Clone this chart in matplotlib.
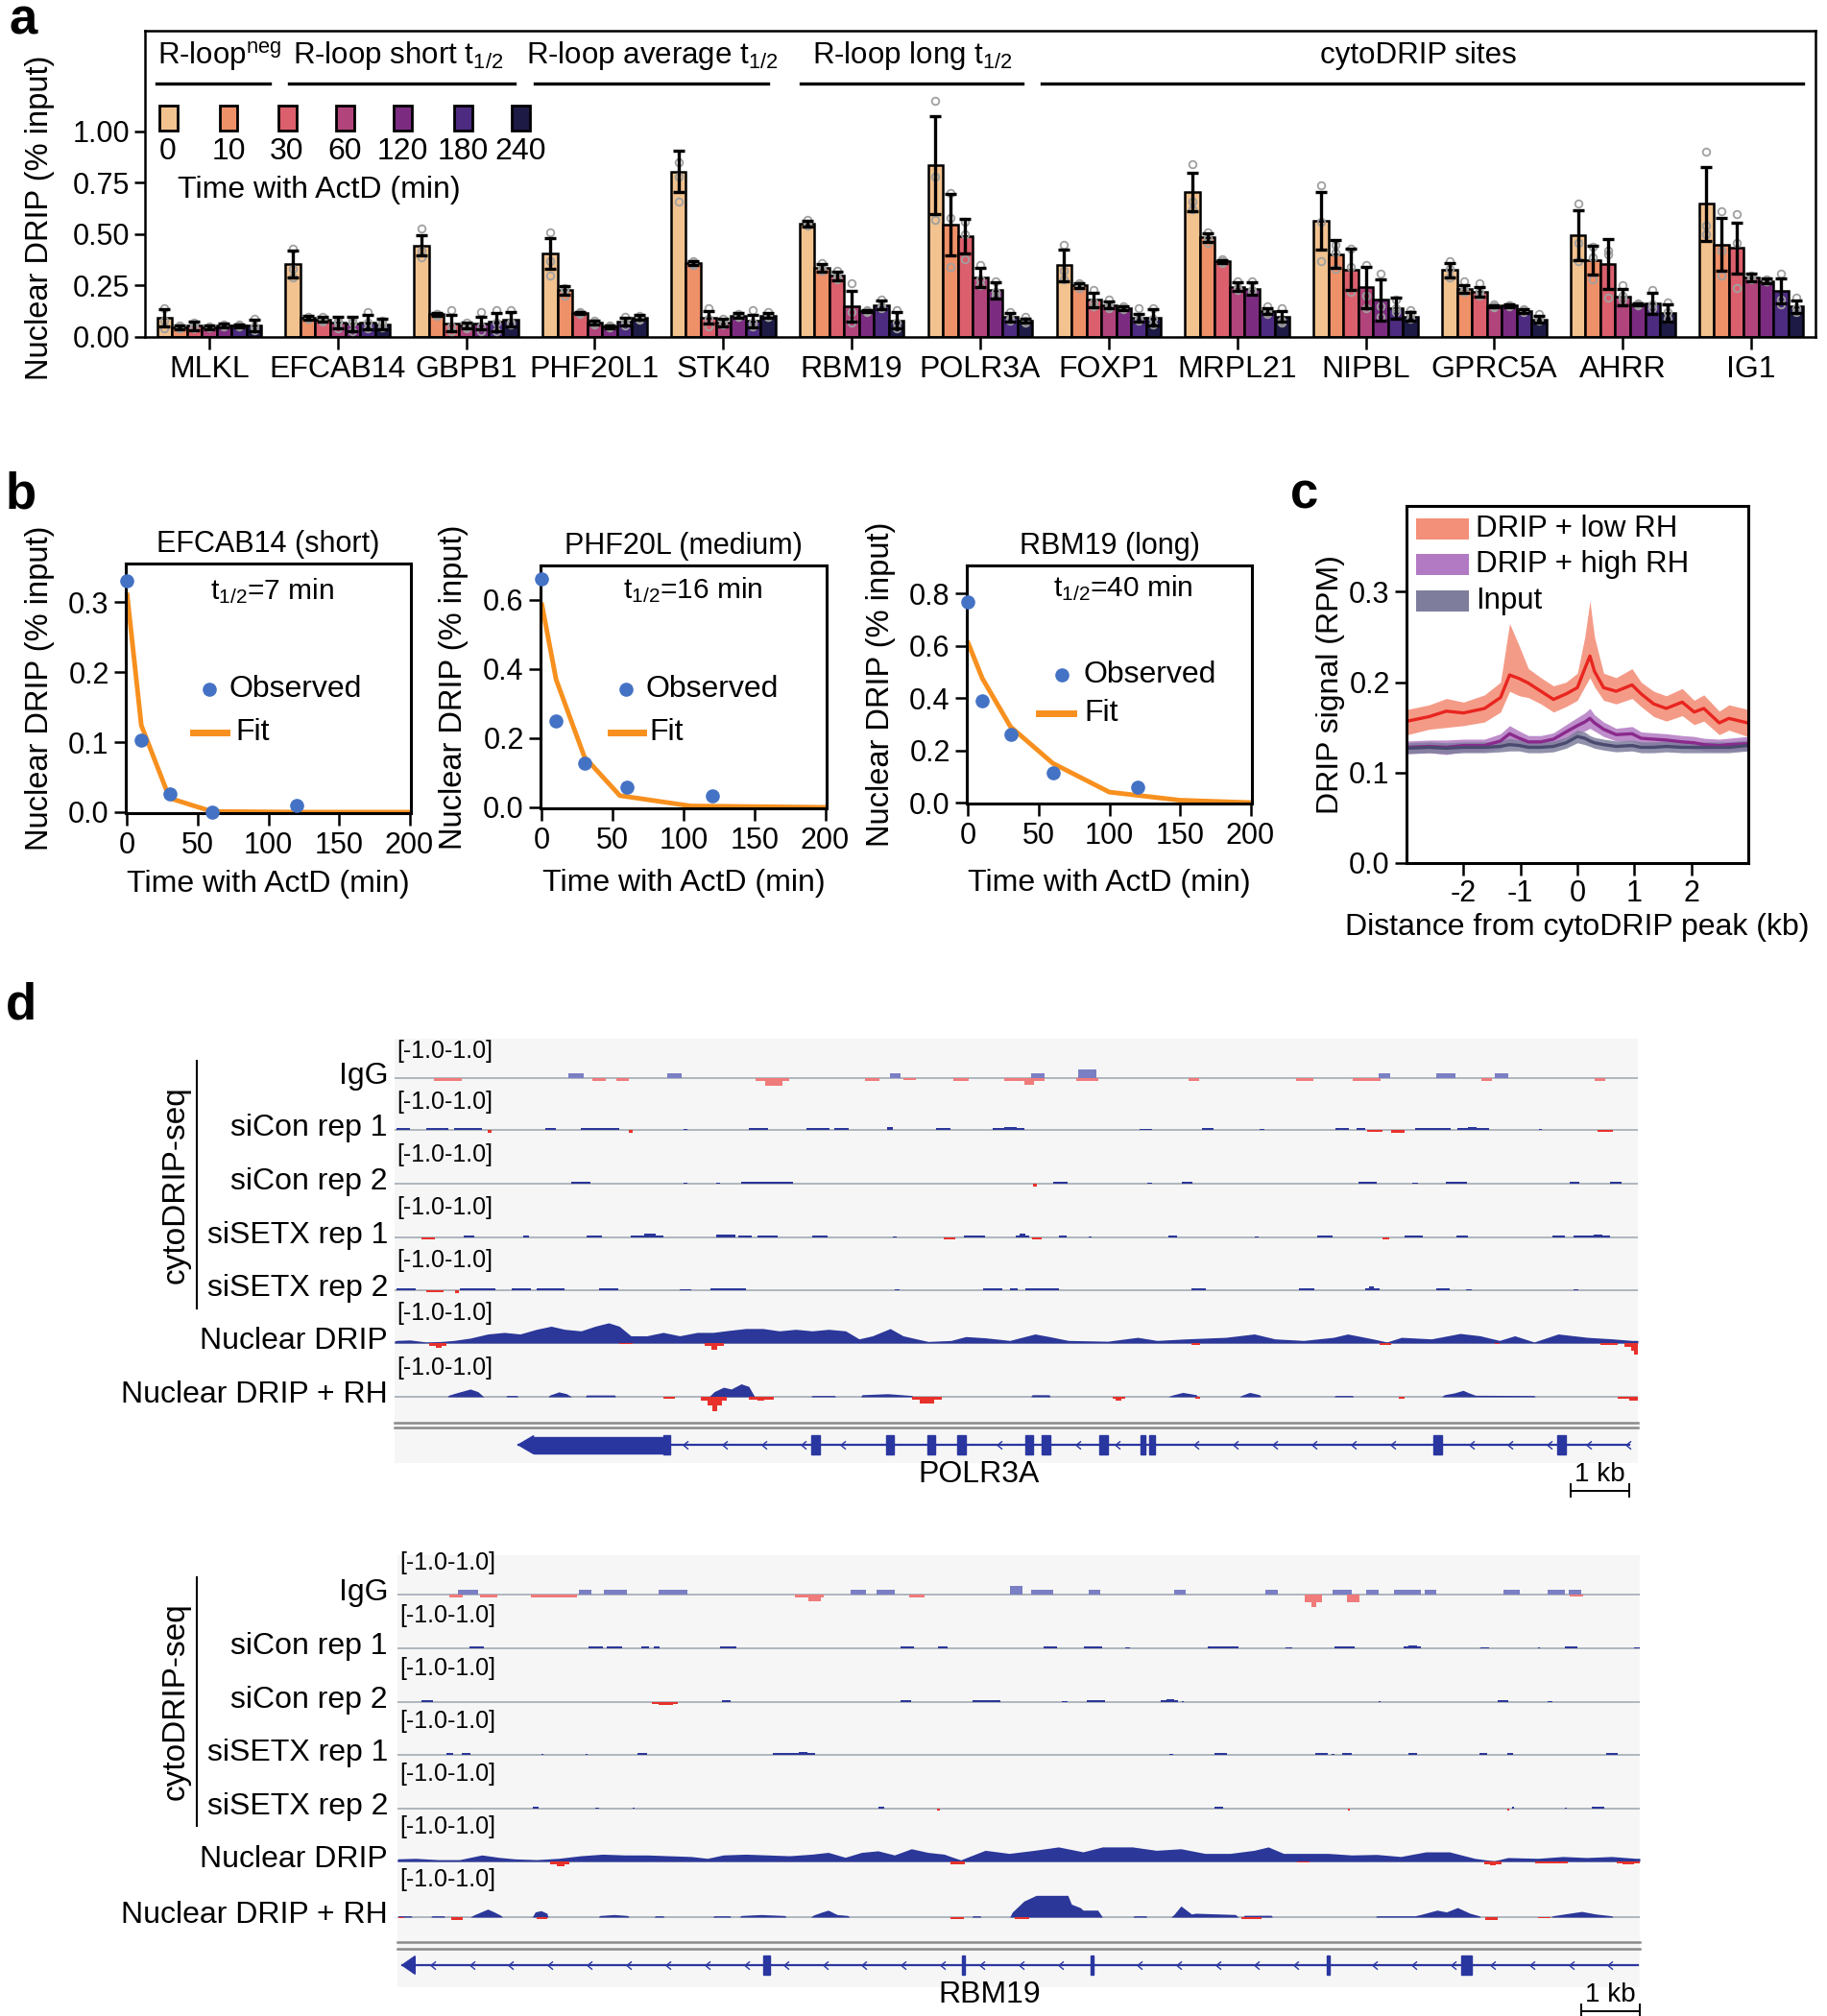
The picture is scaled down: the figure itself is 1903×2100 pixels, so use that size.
import numpy as np
import matplotlib
matplotlib.use("Agg")
import matplotlib.pyplot as plt
from matplotlib.patches import Rectangle, Polygon
from matplotlib.lines import Line2D
from matplotlib.path import Path

plt.rcParams['font.family'] = ['Liberation Sans', 'DejaVu Sans']
plt.rcParams['mathtext.fontset'] = 'custom'
plt.rcParams['mathtext.rm'] = 'Liberation Sans'
plt.rcParams['mathtext.it'] = 'Liberation Sans:italic'
plt.rcParams['axes.linewidth'] = 1.8
plt.rcParams['axes.unicode_minus'] = False

# ---------------- panel a data ----------------
genes = ['MLKL', 'EFCAB14', 'GBPB1', 'PHF20L1', 'STK40', 'RBM19', 'POLR3A',
         'FOXP1', 'MRPL21', 'NIPBL', 'GPRC5A', 'AHRR', 'IG1']
times = [0, 10, 30, 60, 120, 180, 240]
time_colors = ['#F2C28F', '#EE9068', '#DB5F6D', '#B1447B', '#7C2C80', '#4C2B80', '#1D1A45']
means = [
    [0.094, 0.047, 0.055, 0.047, 0.055, 0.055, 0.058],
    [0.355, 0.094, 0.086, 0.070, 0.065, 0.072, 0.062],
    [0.445, 0.110, 0.067, 0.055, 0.067, 0.073, 0.086],
    [0.406, 0.227, 0.117, 0.070, 0.050, 0.075, 0.094],
    [0.805, 0.360, 0.094, 0.070, 0.105, 0.078, 0.105],
    [0.550, 0.336, 0.297, 0.148, 0.125, 0.156, 0.081],
    [0.836, 0.547, 0.490, 0.290, 0.227, 0.097, 0.081],
    [0.348, 0.250, 0.180, 0.156, 0.140, 0.094, 0.094],
    [0.706, 0.484, 0.367, 0.245, 0.234, 0.125, 0.100],
    [0.563, 0.403, 0.328, 0.242, 0.180, 0.140, 0.100],
    [0.325, 0.234, 0.220, 0.148, 0.152, 0.125, 0.086],
    [0.495, 0.375, 0.355, 0.195, 0.160, 0.164, 0.117],
    [0.648, 0.450, 0.433, 0.290, 0.273, 0.223, 0.148],
]
errs = [
    [0.042, 0.010, 0.020, 0.008, 0.010, 0.008, 0.028],
    [0.065, 0.010, 0.012, 0.030, 0.035, 0.035, 0.025],
    [0.050, 0.005, 0.040, 0.015, 0.030, 0.045, 0.035],
    [0.075, 0.020, 0.006, 0.010, 0.006, 0.020, 0.012],
    [0.100, 0.008, 0.030, 0.018, 0.010, 0.030, 0.012],
    [0.015, 0.020, 0.020, 0.075, 0.005, 0.020, 0.040],
    [0.240, 0.150, 0.085, 0.045, 0.040, 0.020, 0.010],
    [0.075, 0.010, 0.035, 0.015, 0.010, 0.020, 0.040],
    [0.095, 0.020, 0.008, 0.020, 0.030, 0.015, 0.025],
    [0.140, 0.068, 0.100, 0.100, 0.100, 0.050, 0.020],
    [0.035, 0.020, 0.025, 0.005, 0.005, 0.010, 0.015],
    [0.120, 0.070, 0.120, 0.040, 0.005, 0.050, 0.040],
    [0.180, 0.130, 0.125, 0.020, 0.010, 0.060, 0.030],
]
reps = [
    [(.14, .08, .04), (.055, .045, .04), (.07, .05, .04), (.05, .045, .045), (.06, .055, .05), (.06, .055, .05), (.09, .05, .035)],
    [(.43, .33, .29), (.10, .09, .09), (.10, .085, .075), (.08, .07, .04), (.08, .07, .03), (.12, .07, .04), (.08, .065, .045)],
    [(.53, .42, .39), (.11, .11, .105), (.13, .05, .03), (.07, .05, .04), (.12, .05, .03), (.13, .07, .03), (.13, .07, .06)],
    [(.51, .37, .30), (.24, .23, .20), (.12, .115, .11), (.08, .07, .06), (.055, .05, .045), (.10, .07, .055), (.105, .09, .085)],
    [(.85, .78, .66), (.37, .36, .35), (.14, .09, .05), (.09, .07, .06), (.11, .105, .10), (.13, .07, .05), (.12, .10, .10)],
    [(.57, .55, .54), (.36, .33, .32), (.32, .29, .28), (.26, .12, .07), (.13, .125, .12), (.18, .15, .14), (.13, .07, .04)],
    [(1.15, .78, .57), (.70, .58, .34), (.56, .50, .38), (.35, .28, .25), (.27, .22, .20), (.12, .09, .08), (.10, .08, .07)],
    [(.45, .32, .28), (.26, .25, .24), (.23, .17, .15), (.18, .15, .14), (.15, .14, .135), (.14, .09, .08), (.14, .09, .06)],
    [(.84, .66, .62), (.51, .48, .46), (.38, .37, .36), (.27, .24, .23), (.27, .23, .22), (.15, .12, .11), (.14, .08, .07)],
    [(.74, .56, .37), (.45, .41, .33), (.43, .34, .22), (.35, .20, .14), (.31, .15, .10), (.18, .14, .12), (.13, .11, .09)],
    [(.37, .33, .29), (.27, .23, .22), (.26, .22, .20), (.16, .15, .145), (.155, .155, .15), (.135, .13, .12), (.11, .09, .08)],
    [(.65, .46, .37), (.44, .39, .28), (.42, .40, .19), (.25, .20, .18), (.165, .16, .155), (.23, .16, .14), (.17, .12, .09)],
    [(.90, .54, .50), (.61, .42, .30), (.60, .46, .24), (.30, .29, .28), (.28, .27, .27), (.31, .18, .16), (.19, .14, .12)],
]
group_names = [r'R-loop$^{\mathrm{neg}}$', r'R-loop short t$_{\mathrm{1/2}}$',
               r'R-loop average t$_{\mathrm{1/2}}$', r'R-loop long t$_{\mathrm{1/2}}$', 'cytoDRIP sites']
group_span = [(-0.41, 0.47), (0.62, 2.38), (2.53, 4.35), (4.60, 6.33), (6.48, 12.40)]
group_text_x = [0.08, 1.47, 3.45, 5.47, 9.41]

# ---------------- panel b data ----------------
b_names = ['EFCAB14 (short)', 'PHF20L (medium)', 'RBM19 (long)']
b_half = ['7', '16', '40']
obs_t = [0, 10, 30, 60, 120]
obs_vals = [[0.330, 0.103, 0.026, 0.000, 0.010],
            [0.662, 0.250, 0.127, 0.058, 0.034],
            [0.767, 0.391, 0.260, 0.113, 0.060]]
fit_t = [[0, 10, 30, 60, 120, 200],
         [0, 10, 30, 55, 105, 200],
         [0, 10, 30, 60, 100, 150, 200]]
fit_vals = [[0.310, 0.124, 0.020, 0.001, 0.000, 0.000],
            [0.586, 0.370, 0.146, 0.034, 0.004, 0.000],
            [0.610, 0.475, 0.290, 0.150, 0.040, 0.009, 0.000]]
b_ytop = [0.355, 0.70, 0.907]
b_yticks = [[0, 0.1, 0.2, 0.3], [0, 0.2, 0.4, 0.6], [0, 0.2, 0.4, 0.6, 0.8]]

# ---------------- panel c data ----------------
c_x = [-2.98, -2.6, -2.3, -2.0, -1.63, -1.35, -1.19, -1.02, -0.86, -0.64, -0.42, -0.2, 0.0, 0.13,
       0.22, 0.3, 0.46, 0.68, 0.96, 1.12, 1.34, 1.56, 1.84, 2.05, 2.22, 2.49, 2.66, 2.99]
low_mid = [.157, .162, .168, .166, .171, .183, .208, .204, .199, .190, .181, .187, .194, .215,
           .229, .212, .194, .190, .197, .187, .176, .171, .178, .167, .171, .155, .160, .155]
low_hi = [.170, .175, .182, .178, .186, .200, .265, .240, .215, .205, .196, .200, .210, .250,
          .290, .250, .210, .205, .215, .200, .190, .185, .193, .180, .186, .168, .175, .170]
low_lo = [.142, .148, .150, .152, .156, .167, .190, .185, .183, .176, .167, .173, .180, .195,
          .205, .195, .180, .176, .182, .173, .162, .157, .163, .153, .157, .142, .147, .140]
high_mid = [.128, .129, .128, .130, .130, .135, .143, .138, .134, .134, .137, .145, .152, .156,
            .160, .155, .148, .142, .143, .138, .137, .136, .134, .133, .131, .130, .131, .132]
high_sd = [.007, .007, .008, .007, .007, .008, .009, .008, .007, .007, .007, .008, .009, .010,
           .011, .009, .008, .007, .008, .007, .007, .007, .007, .007, .007, .007, .007, .008]
input_mid = [.127, .128, .127, .128, .128, .129, .131, .130, .128, .128, .129, .133, .140, .138,
             .135, .133, .131, .129, .130, .128, .128, .129, .128, .128, .128, .128, .128, .130]
input_sd = [.006, .006, .006, .006, .006, .006, .007, .006, .006, .006, .006, .006, .007, .007,
            .006, .006, .006, .006, .006, .006, .006, .006, .006, .006, .006, .006, .006, .006]

# ---------------- panel d data (kb, signal in [-1, 1]) ----------------
track_names = ['IgG', 'siCon rep 1', 'siCon rep 2', 'siSETX rep 1', 'siSETX rep 2',
               'Nuclear DRIP', 'Nuclear DRIP + RH']

b1_igg = [(2.96, 3.22, .19), (4.65, 4.90, .19), (8.45, 8.63, .19), (10.85, 11.08, .19),
          (11.65, 11.96, .33), (16.78, 16.97, .19), (17.77, 18.09, .19), (18.76, 18.99, .19),
          (0.67, 1.15, -.12), (3.37, 3.60, -.12), (3.78, 3.99, -.12), (6.15, 6.73, -.12),
          (6.32, 6.61, -.30), (8.02, 8.27, -.12), (8.67, 8.89, -.08), (9.53, 9.79, -.12),
          (10.39, 11.08, -.12), (10.74, 10.90, -.26), (11.62, 12.00, -.12), (13.54, 13.72, -.12),
          (15.37, 15.66, -.12), (16.33, 16.82, -.12), (18.53, 18.71, -.12), (20.47, 20.64, -.12)]
b1_sicon1 = [(0.03, 0.26, .06), (0.54, 0.92, .06), (1.01, 1.49, .07), (1.59, 1.65, -.10),
             (2.57, 2.75, .06), (3.18, 3.83, .06), (3.99, 4.06, -.10), (4.93, 4.99, .05),
             (6.04, 6.37, .06), (7.02, 7.41, .06), (7.50, 7.74, .06), (8.40, 8.49, .12),
             (9.23, 9.48, .06), (10.20, 10.74, .07), (10.40, 10.60, .12), (12.70, 12.91, .05),
             (13.76, 13.96, .06), (14.75, 14.83, .05), (16.04, 16.27, .06), (16.40, 16.55, .06),
             (16.58, 16.84, -.08), (16.99, 17.22, -.10), (17.41, 18.00, .07), (18.13, 18.67, .07),
             (18.30, 18.45, .12), (19.51, 19.57, .05), (20.51, 20.77, -.07)]
b1_sicon2 = [(3.01, 3.34, .07), (4.93, 4.99, .05), (5.48, 5.55, .05), (5.91, 6.79, .07),
             (10.88, 10.95, -.10), (11.23, 11.47, .07), (12.83, 12.91, .05), (13.42, 13.60, .07),
             (16.43, 16.74, .07), (17.35, 17.45, .05), (17.92, 18.28, .08), (20.03, 20.20, .07),
             (20.72, 20.92, .07)]
b1_setx1 = [(0.46, 0.69, -.07), (1.18, 1.36, .06), (2.19, 2.29, .06), (3.27, 3.54, .06),
            (4.03, 4.58, .08), (4.25, 4.45, .14), (5.48, 5.81, .10), (5.86, 6.09, .06),
            (6.19, 6.53, .06), (7.12, 7.38, .06), (8.49, 8.56, .05), (9.36, 9.56, -.06),
            (9.71, 10.07, .06), (10.59, 10.82, .08), (10.65, 10.75, .15), (10.87, 11.03, -.06),
            (11.33, 11.46, .06), (11.83, 11.88, .05), (13.19, 13.34, .06), (14.66, 14.73, .05),
            (15.74, 15.99, .06), (16.84, 16.96, -.06), (17.22, 17.54, .06), (18.10, 18.31, .06),
            (19.75, 19.95, .06), (20.10, 20.72, .07), (20.45, 20.60, .10)]
b1_setx2 = [(0.03, 0.36, .06), (0.54, 0.83, -.08), (1.03, 1.10, -.10), (1.11, 1.72, .07),
            (2.00, 2.32, .06), (2.42, 2.90, .07), (3.49, 3.81, .06), (4.86, 5.06, .05),
            (5.38, 5.99, .06), (8.53, 8.61, .05), (10.03, 10.36, .06), (10.49, 10.62, .06),
            (10.75, 11.33, .07), (13.58, 13.83, .06), (15.42, 15.68, .06), (16.55, 16.79, .07),
            (16.62, 16.70, .14), (17.77, 17.99, .06), (18.27, 18.36, .05), (20.10, 20.18, .05)]
b1_ndrip = [(0.0, .08), (0.03, .10), (0.26, .12), (0.54, .04), (0.79, .06), (1.01, .10), (1.29, .19),
            (1.59, .35), (1.87, .41), (2.14, .35), (2.42, .53), (2.67, .65), (2.90, .53), (3.18, .47),
            (3.42, .65), (3.65, .78), (3.83, .65), (4.03, .28), (4.30, .28), (4.58, .41), (4.86, .28),
            (5.16, .41), (5.43, .41), (5.71, .49), (5.99, .56), (6.28, .56), (6.56, .47), (6.84, .53),
            (7.12, .47), (7.40, .53), (7.69, .47), (7.92, .16), (8.15, .28), (8.45, .56), (8.67, .28),
            (8.90, .16), (9.10, .06), (9.49, .10), (9.74, .25), (10.08, .20), (10.49, .10), (10.92, .35),
            (11.16, .25), (11.49, .10), (12.16, .07), (12.67, .22), (13.00, .10), (13.50, .16),
            (14.17, .22), (14.66, .35), (15.01, .16), (15.50, .10), (16.01, .22), (16.25, .35),
            (16.68, .16), (16.92, .04), (17.17, .22), (17.68, .16), (18.17, .37), (18.51, .28),
            (18.84, .10), (19.10, .28), (19.43, .04), (19.84, .35), (20.34, .22), (20.77, .16),
            (21.10, .10), (21.20, .10)]
b1_ndrip_neg = [(0.59, 0.88, -.10), (0.70, 0.80, -.17), (3.83, 4.06, -.05), (5.29, 5.61, -.12),
                (5.40, 5.50, -.25), (13.58, 13.74, -.07), (16.79, 17.00, -.07), (18.76, 18.84, -.05),
                (20.56, 20.85, -.07), (20.97, 21.20, -.15), (21.08, 21.20, -.30), (21.14, 21.20, -.45)]
b1_rh = [(0.0, 0), (0.90, 0), (0.92, .06), (1.05, .15), (1.29, .30), (1.42, .20), (1.49, .06), (1.52, 0),
         (1.90, 0), (1.91, .05), (2.09, .05), (2.10, 0), (2.62, 0), (2.64, .06), (2.80, .19), (2.93, .12),
         (2.99, .04), (3.02, 0), (3.25, 0), (3.27, .07), (3.75, .07), (3.77, 0), (5.36, 0), (5.45, .20),
         (5.61, .37), (5.74, .30), (5.91, .50), (6.04, .40), (6.14, 0), (7.10, 0), (7.12, .05),
         (7.50, .05), (7.52, 0), (7.95, 0), (7.97, .08), (8.41, .12), (8.82, .05), (8.84, 0),
         (10.85, 0), (10.87, .08), (11.16, .08), (11.18, 0), (13.19, 0), (13.25, .06), (13.44, .17),
         (13.67, .08), (13.69, 0), (14.40, 0), (14.45, .06), (14.58, .17), (14.75, .08), (14.77, 0),
         (16.02, 0), (16.04, .05), (16.33, .05), (16.35, 0), (17.85, 0), (17.90, .08), (18.07, .15),
         (18.22, .25), (18.32, .15), (18.43, .06), (19.43, .05), (19.45, 0), (21.20, 0)]
b1_rh_neg = [(4.58, 4.78, -.08), (5.23, 5.66, -.15), (5.33, 5.58, -.35), (5.42, 5.50, -.55),
             (6.04, 6.46, -.10), (6.18, 6.30, -.15), (8.82, 9.33, -.10), (8.95, 9.20, -.25),
             (12.25, 12.46, -.08), (12.30, 12.40, -.15), (13.66, 13.74, -.07), (17.13, 17.22, -.07),
             (20.85, 21.20, -.08), (21.05, 21.20, -.15)]
b1_exons = [(4.58, 4.70), (7.11, 7.25), (8.38, 8.52), (9.08, 9.22), (9.60, 9.74), (10.75, 10.89),
            (11.04, 11.18), (12.02, 12.16), (12.72, 12.81), (12.87, 12.96), (17.72, 17.86), (19.83, 19.97)]

b2_igg = [(1.03, 1.37, .19), (3.09, 3.31, .19), (3.52, 3.91, .19), (4.45, 4.94, .19), (7.74, 8.00, .19),
          (8.17, 8.48, .19), (10.46, 10.67, .35), (10.82, 11.19, .19), (11.80, 12.00, .19),
          (13.26, 13.45, .19), (14.81, 15.02, .19), (15.96, 16.28, .19), (16.53, 16.74, .19),
          (17.00, 17.46, .19), (17.53, 17.72, .19), (18.87, 19.15, .19), (19.62, 19.92, .19),
          (19.98, 20.20, .19), (0.88, 1.11, -.12), (1.41, 1.70, -.12), (2.27, 3.06, -.12),
          (6.79, 7.28, -.12), (7.02, 7.22, -.27), (8.74, 8.99, -.12), (15.48, 15.78, -.30),
          (15.60, 15.68, -.48), (16.20, 16.42, -.30), (20.00, 20.23, -.08)]
b2_sicon1 = [(1.23, 1.47, .06), (3.26, 3.50, .06), (3.57, 3.83, .06), (4.16, 4.30, .06), (4.37, 4.48, .06),
             (5.50, 5.78, .07), (8.59, 8.81, .06), (9.23, 9.38, .06), (11.03, 11.26, .06),
             (11.72, 12.03, .06), (12.42, 12.50, .05), (13.83, 14.35, .07), (15.16, 15.27, .05),
             (15.99, 16.33, .07), (17.17, 17.46, .08), (17.25, 17.40, .12), (18.48, 18.63, .05),
             (19.46, 19.49, .05), (19.92, 20.13, .06), (21.10, 21.20, .05)]
b2_sicon2 = [(0.41, 0.61, .08), (4.34, 4.78, -.08), (4.45, 4.70, -.11), (5.53, 5.68, .06), (8.58, 8.77, .06),
             (9.82, 10.29, .06), (11.33, 11.44, .05), (11.77, 12.08, .06), (13.03, 13.32, .07),
             (13.12, 13.25, .12), (13.39, 13.42, .05), (16.74, 16.78, .05), (18.77, 18.95, .06),
             (19.62, 19.71, .05)]
b2_setx1 = [(0.83, 0.95, .06), (1.10, 1.24, .06), (2.45, 2.49, .05), (3.21, 3.24, .05), (4.09, 4.26, .06),
            (6.40, 7.12, .06), (6.85, 7.00, .10), (13.18, 13.24, .05), (13.94, 14.16, .06),
            (15.66, 15.88, .06), (15.94, 15.99, .05), (16.12, 16.28, .06), (17.25, 17.40, .06),
            (18.46, 18.59, .06), (18.94, 19.03, .06), (20.62, 20.83, .06)]
b2_setx2 = [(2.31, 2.41, .06), (3.37, 3.44, .05), (4.01, 4.04, .05), (8.20, 8.31, .06), (9.21, 9.25, -.08),
            (13.94, 14.09, .06), (16.22, 16.25, -.07), (18.94, 18.97, -.08), (19.02, 19.05, .06),
            (19.92, 19.95, .05), (20.38, 20.59, .06)]
b2_ndrip = [(0.0, .10), (0.31, .12), (0.69, .07), (1.06, .07), (1.44, .25), (1.72, .16), (2.00, .10),
            (2.37, .07), (2.75, .12), (3.13, .22), (3.50, .28), (3.88, .25), (4.26, .25), (4.63, .22),
            (5.01, .19), (5.29, .12), (5.56, .25), (5.94, .28), (6.32, .25), (6.69, .22), (7.07, .28),
            (7.35, .35), (7.64, .16), (7.92, .35), (8.20, .41), (8.48, .25), (8.77, .49), (9.05, .35),
            (9.33, .28), (9.44, .19), (9.61, .06), (10.03, .43), (10.44, .31), (10.87, .43), (11.28, .56),
            (11.70, .37), (12.03, .56), (12.54, .56), (12.95, .43), (13.37, .49), (13.78, .31),
            (14.21, .31), (14.62, .43), (14.86, .56), (15.12, .31), (15.45, .31), (15.88, .31),
            (16.28, .25), (16.71, .27), (17.12, .19), (17.55, .37), (17.95, .37), (18.38, .12),
            (18.71, .02), (18.95, .15), (19.46, .12), (19.89, .19), (20.29, .15), (20.72, .19),
            (21.13, .12), (21.20, .12)]
b2_ndrip_neg = [(2.61, 2.93, -.12), (2.72, 2.85, -.20), (9.44, 9.69, -.12), (15.35, 15.57, -.04),
                (18.55, 18.84, -.10), (18.65, 18.75, -.15), (19.42, 19.97, -.06), (20.80, 21.20, -.07),
                (20.90, 21.10, -.10)]
b2_rh = [(0.0, 0), (0.02, .05), (0.23, .05), (0.25, 0), (0.57, 0), (0.59, .05), (0.79, .05), (0.81, 0),
         (1.24, 0), (1.30, .08), (1.54, .31), (1.65, .20), (1.77, .06), (1.79, 0), (2.30, 0), (2.35, .20),
         (2.45, .25), (2.55, .15), (2.57, 0), (3.43, 0), (3.45, .06), (3.70, .10), (3.93, .06), (3.95, 0),
         (4.38, 0), (4.40, .05), (4.53, .05), (4.55, 0), (5.38, 0), (5.40, .05), (5.67, .05), (5.69, 0),
         (5.84, 0), (5.86, .06), (6.20, .10), (6.61, .06), (6.63, 0), (7.05, 0), (7.10, .08), (7.25, .20),
         (7.35, .27), (7.50, .10), (7.69, .06), (7.71, 0), (9.80, 0), (9.82, .05), (9.94, .05), (9.96, 0),
         (10.45, 0), (10.49, .19), (10.69, .62), (10.90, .84), (11.44, .84), (11.50, .50), (11.65, .37),
         (11.70, .27), (11.95, .27), (12.03, 0), (12.55, 0), (12.57, .05), (12.77, .05), (12.79, 0),
         (13.20, 0), (13.25, .10), (13.37, .43), (13.55, .12), (13.62, .15), (14.30, .10), (14.35, 0),
         (14.43, 0), (14.45, .07), (14.91, .07), (14.93, 0), (16.69, 0), (16.71, .05), (17.36, .05),
         (17.46, .10), (17.74, .27), (17.90, .20), (18.09, .37), (18.30, .15), (18.46, .05), (18.48, 0),
         (19.69, 0), (19.71, .05), (20.00, .15), (20.21, .22), (20.45, .12), (20.72, .05), (20.74, 0),
         (21.20, 0)]
b2_rh_neg = [(0.02, 0.12, -.05), (0.92, 1.12, -.10), (2.37, 2.56, -.08), (9.44, 9.66, -.08),
             (10.54, 10.78, -.08), (14.40, 14.75, -.08), (18.56, 18.77, -.10), (19.46, 19.67, -.05)]
b2_exons = [(6.24, 6.36), (9.64, 9.69), (11.83, 11.88), (15.86, 15.91), (18.16, 18.34)]

W, H = 1903, 2100
fig = plt.figure(figsize=(W / 100, H / 100), dpi=100)


def box(l, t, r, b):
    return [l / W, 1 - b / H, (r - l) / W, (b - t) / H]


def ftext(x, y, s, **kw):
    return fig.text(x / W, 1 - y / H, s, **kw)


def fline(x0, x1, y0, y1, **kw):
    fig.add_artist(Line2D([x0 / W, x1 / W], [1 - y0 / H, 1 - y1 / H], transform=fig.transFigure, **kw))


def frect(l, t, r, b, **kw):
    fig.add_artist(Rectangle((l / W, 1 - b / H), (r - l) / W, (b - t) / H, transform=fig.transFigure, **kw))


# ================= panel a =================
ax = fig.add_axes(box(151, 32, 1891, 351))
bw = 0.116
gx = np.arange(len(genes))
for k in range(len(times)):
    xs = gx + (k - 3) * bw
    m = [row[k] for row in means]
    e = [row[k] for row in errs]
    ax.bar(xs, m, bw, color=time_colors[k], edgecolor='black', linewidth=1.8, zorder=2)
    for g in range(len(genes)):
        ax.plot([xs[g]] * 3, reps[g][k], 'o', mfc='none', mec='#a0a0a0', ms=5.5, mew=1.3, zorder=3)
    ax.errorbar(xs, m, yerr=e, fmt='none', ecolor='black', elinewidth=2.4, capsize=4, capthick=2.4, zorder=4)
ax.set_xlim(-0.5, 12.5)
ax.set_ylim(0, 1.49)
ax.set_yticks([0, 0.25, 0.5, 0.75, 1.0])
ax.set_yticklabels(['0.00', '0.25', '0.50', '0.75', '1.00'])
ax.set_xticks(gx)
ax.set_xticklabels(genes)
ax.tick_params(axis='y', labelsize=22, length=8, width=1.8)
ax.tick_params(axis='x', labelsize=23, length=9, width=1.8, pad=5)
ax.set_ylabel('Nuclear DRIP (% input)', fontsize=23.5)
ax.yaxis.set_label_coords(-0.054, 0.39)

trans = ax.get_xaxis_transform()
for name, (x0, x1), tx in zip(group_names, group_span, group_text_x):
    ax.plot([x0, x1], [0.828, 0.828], color='black', lw=2.4, transform=trans, clip_on=False)
    ax.text(tx, 0.918, name, transform=trans, ha='center', va='center', fontsize=22.5)

leg_x = [175, 238, 299, 359, 419, 482, 542]
for k, t in enumerate(times):
    frect(leg_x[k] - 9.5, 110, leg_x[k] + 9.5, 136, facecolor=time_colors[k], edgecolor='black', lw=2)
    ftext(leg_x[k], 158, str(t), ha='center', va='center', fontsize=23)
ftext(185, 198, 'Time with ActD (min)', ha='left', va='center', fontsize=23)

# ================= panel b =================
b_boxes = [(131, 587, 428, 847), (563, 589, 861, 842), (1007, 589, 1304, 837)]
half_pos = [(284, 616), (722, 615), (1170, 613)]
obs_leg = [(218, 718, 238), (652, 718, 672), (1106, 703, 1129)]
fit_leg = [(201, 236, 763, 245), (636, 670, 763, 676), (1082, 1118, 743, 1129)]
xlab_y = [-0.225, -0.25, -0.275]
for i in range(3):
    l, t, r, b = b_boxes[i]
    bx = fig.add_axes(box(l, t, r, b))
    bx.plot(fit_t[i], fit_vals[i], color='#F7901E', lw=3.5, solid_joinstyle='round', zorder=2, clip_on=False)
    bx.plot(obs_t, obs_vals[i], 'o', color='#4472C4', ms=9.5, zorder=3, clip_on=False)
    bx.set_xlim(-1, 201)
    bx.set_ylim(-0.004 * b_ytop[i], b_ytop[i])
    bx.set_xticks([0, 50, 100, 150, 200])
    bx.set_yticks(b_yticks[i])
    bx.set_yticklabels(['%.1f' % v for v in b_yticks[i]])
    for sp in bx.spines.values():
        sp.set_linewidth(2.2)
    bx.tick_params(labelsize=22, length=9, width=1.8)
    bx.tick_params(axis='x', pad=5)
    bx.set_title(b_names[i], fontsize=22, pad=9)
    bx.set_xlabel('Time with ActD (min)', fontsize=23)
    bx.xaxis.set_label_coords(0.5, xlab_y[i])
    bx.set_ylabel('Nuclear DRIP (% input)', fontsize=23.5)
    bx.yaxis.set_label_coords(-0.25, 0.5)
    ftext(half_pos[i][0], half_pos[i][1], r't$_{\mathrm{1/2}}$=' + b_half[i] + ' min',
          ha='center', va='center', fontsize=21.5)
    ox, oy, otx = obs_leg[i]
    fig.add_artist(Line2D([ox / W], [1 - oy / H], marker='o', color='#4472C4', ms=9.5,
                          transform=fig.transFigure))
    ftext(otx, oy, 'Observed', ha='left', va='center', fontsize=23)
    fx0, fx1, fy, ftx = fit_leg[i]
    fline(fx0, fx1, fy, fy, color='#F7901E', lw=5)
    ftext(ftx, fy, 'Fit', ha='left', va='center', fontsize=23)

# ================= panel c =================
cx = fig.add_axes(box(1465, 527, 1821, 899))
hm = np.array(high_mid)
hs = np.array(high_sd)
im = np.array(input_mid)
isd = np.array(input_sd)
cx.fill_between(c_x, low_lo, low_hi, color='#F3907A', alpha=0.9, lw=0)
cx.plot(c_x, low_mid, color='#E8251F', lw=2.4)
cx.fill_between(c_x, hm - hs, hm + hs, color='#B27AC2', alpha=0.85, lw=0)
cx.plot(c_x, high_mid, color='#8A2A8C', lw=2.4)
cx.fill_between(c_x, im - isd, im + isd, color='#7E7E9C', alpha=0.85, lw=0)
cx.plot(c_x, input_mid, color='#4A4A70', lw=2.4)
cx.set_xlim(-3, 3)
cx.set_ylim(0, 0.395)
cx.set_xticks([-2, -1, 0, 1, 2])
cx.set_yticks([0, 0.1, 0.2, 0.3])
cx.set_yticklabels(['0.0', '0.1', '0.2', '0.3'])
for sp in cx.spines.values():
    sp.set_linewidth(2.2)
cx.tick_params(labelsize=22, length=9, width=1.8)
cx.set_xlabel('Distance from cytoDRIP peak (kb)', fontsize=23)
cx.xaxis.set_label_coords(0.5, -0.14)
cx.set_ylabel('DRIP signal (RPM)', fontsize=23)
cx.yaxis.set_label_coords(-0.18, 0.5)
c_leg = [('DRIP + low RH', '#F3907A', 551), ('DRIP + high RH', '#B27AC2', 588), ('Input', '#7E7E9C', 626)]
for lab, col, y in c_leg:
    frect(1475, y - 11, 1530, y + 11, facecolor=col, edgecolor='none')
    ftext(1537, y, lab, ha='left', va='center', fontsize=22.5)

# ================= panel d =================
chev = Path([(0.6, 1.0), (-0.6, 0.0), (0.6, -1.0)], [Path.MOVETO, Path.LINETO, Path.LINETO])
gene_col = '#2A36A0'
blue = '#2B3799'
red = '#E8312B'


def draw_blocks(tax, blocks, pc, nc):
    for s, e, h in blocks:
        tax.add_patch(Rectangle((s, min(0, h)), e - s, abs(h), facecolor=pc if h > 0 else nc,
                                edgecolor='none', zorder=2))


def browser(left, right, bg, bases, brackets, tracks, rules, gene_y, line, tip, exons, utr,
            gname, gname_x, bar_x, seq_span):
    frect(left, bg[0], right, bg[1], facecolor='#f6f6f6', edgecolor='none', zorder=0)
    for i, tname in enumerate(track_names):
        b = bases[i]
        tax = fig.add_axes(box(left, b - 27, right, b + 27))
        tax.set_xlim(0, 21.2)
        tax.set_ylim(-1, 1)
        tax.axis('off')
        tax.axhline(0, color='#A9B1BA', lw=1.3, zorder=1)
        blocks, prof = tracks[i]
        if prof is not None:
            px, ph = zip(*prof)
            tax.fill_between(px, 0, ph, color=blue, lw=0, zorder=2)
        if i == 0:
            draw_blocks(tax, blocks, '#7B7FC4', '#F07B7B')
        else:
            draw_blocks(tax, blocks, blue, red)
        ftext(left + 2, brackets[i], '[-1.0-1.0]', ha='left', va='center', fontsize=18)
        ftext(404, b - 2, tname, ha='right', va='center', fontsize=23)
    for y in rules:
        fline(left, right, y, y, color='#8a8a8a', lw=1.8)
    gax = fig.add_axes(box(left, gene_y - 17, right, gene_y + 17))
    gax.set_xlim(0, 21.2)
    gax.set_ylim(-1, 1)
    gax.axis('off')
    gax.plot(line, [0, 0], color=gene_col, lw=1.6)
    gax.add_patch(Polygon([(line[0], 0), (tip, 0.55), (tip, -0.55)], closed=True, color=gene_col))
    if utr is not None:
        gax.add_patch(Rectangle((utr[0], -0.5), utr[1] - utr[0], 1.0, color=gene_col))
    for s, e in exons:
        gax.add_patch(Rectangle((s, -0.6), e - s, 1.2, color=gene_col))
    # strand chevrons along the introns
    start = utr[1] if utr is not None else tip
    cpos = [c for c in np.arange(start + 0.3, line[1], 0.67)
            if all(c < s - 0.12 or c > e + 0.12 for s, e in exons)]
    gax.plot(cpos, [0] * len(cpos), ls='none', marker=chev, ms=6, mfc='none', mec=gene_col, mew=1.0)
    tr = gax.get_xaxis_transform()
    gax.text(gname_x, -0.4, gname, transform=tr, ha='center', va='center', fontsize=23)
    gax.plot([bar_x, bar_x + 1], [-0.9, -0.9], color='black', lw=1.4, transform=tr, clip_on=False)
    for xb in (bar_x, bar_x + 1):
        gax.plot([xb, xb], [-0.72, -1.08], color='black', lw=1.4, transform=tr, clip_on=False)
    gax.text(bar_x + 0.5, -0.4, '1 kb', transform=tr, ha='center', va='center', fontsize=20)
    fline(205, 205, seq_span[0], seq_span[1], color='black', lw=1.5)
    ftext(183, (seq_span[0] + seq_span[1]) / 2, 'cytoDRIP-seq', rotation=90, ha='center',
          va='center', fontsize=24)


b1_tracks = [(b1_igg, None), (b1_sicon1, None), (b1_sicon2, None), (b1_setx1, None),
             (b1_setx2, None), (b1_ndrip_neg, b1_ndrip), (b1_rh_neg, b1_rh)]
b2_tracks = [(b2_igg, None), (b2_sicon1, None), (b2_sicon2, None), (b2_setx1, None),
             (b2_setx2, None), (b2_ndrip_neg, b2_ndrip), (b2_rh_neg, b2_rh)]

browser(411, 1706, (1082, 1524), [1123, 1177, 1233, 1289, 1344, 1399, 1455],
        [1095, 1148, 1203, 1258, 1313, 1368, 1425], b1_tracks, [1482, 1487], 1505,
        (2.11, 21.06), 2.37, b1_exons, (2.37, 4.66), 'POLR3A', 9.97, 20.05, (1105, 1363))
browser(414, 1708, (1620, 2070), [1661, 1717, 1773, 1828, 1884, 1939, 1997],
        [1628, 1683, 1738, 1793, 1848, 1903, 1958], b2_tracks, [2023, 2030], 2047,
        (0.08, 21.16), 0.30, b2_exons, None, 'RBM19', 10.11, 20.2, (1643, 1902))

# panel letters
for lab, x, y in [('a', 24, 36), ('b', 22, 530), ('c', 1359, 530), ('d', 22, 1062)]:
    ftext(x, y, lab, ha='center', va='baseline', fontsize=38, fontweight='bold')

fig.savefig('out.png', dpi=100)
